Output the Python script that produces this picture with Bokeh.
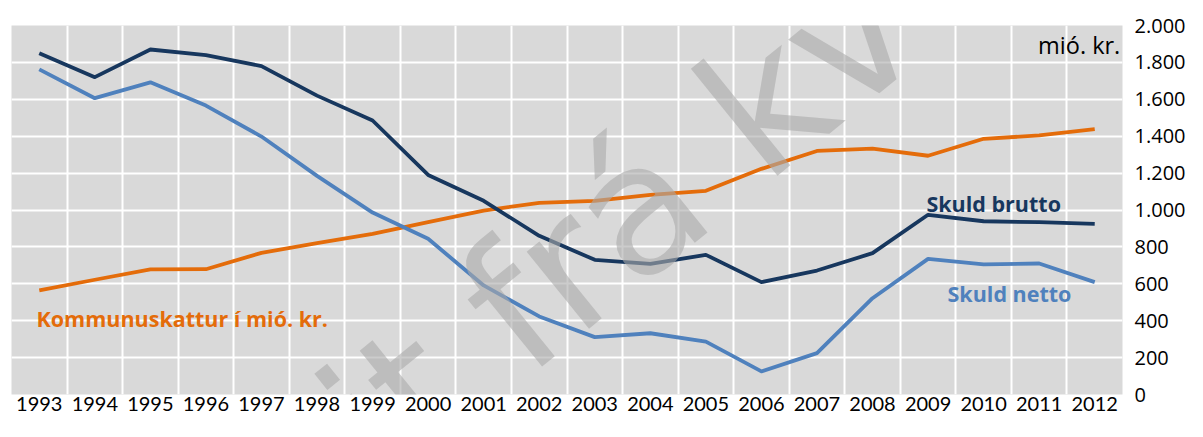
from bokeh.plotting import figure
from bokeh.models import Range1d, FixedTicker, Label
from bokeh.embed import file_html
from bokeh.resources import INLINE

years = [str(y) for y in range(1993, 2013)]
skuld_brutto = [1850, 1720, 1870, 1840, 1780, 1620, 1485, 1190, 1050, 860, 730, 708, 757, 609, 672, 766, 974, 939, 934, 925]
skuld_netto = [1762, 1606, 1692, 1566, 1398, 1185, 986, 844, 591, 423, 311, 332, 287, 125, 224, 522, 735, 705, 710, 609]
kommunuskattur = [564, 622, 678, 679, 768, 820, 871, 934, 997, 1039, 1050, 1082, 1104, 1223, 1320, 1333, 1294, 1386, 1404, 1438]
y_ticks = list(range(0, 2001, 200))

FONT = "Open Sans"
NAVY = "#17375E"
BLUE = "#4F81BD"
ORANGE = "#E46C0A"

xs = [i + 0.5 for i in range(len(years))]

p = figure(frame_width=1111, frame_height=369, output_backend="svg", toolbar_location=None,
           x_range=Range1d(0, len(years)), y_range=Range1d(0, 2000),
           y_axis_location="right", min_border_left=11, min_border_top=25,
           min_border_right=0, min_border_bottom=27)
p.outline_line_color = None
p.background_fill_color = "#D9D9D9"
p.border_fill_color = "white"

p.xgrid.ticker = FixedTicker(ticks=list(range(len(years) + 1)))
p.ygrid.ticker = FixedTicker(ticks=y_ticks)
for g in (p.xgrid, p.ygrid):
    g.grid_line_color = "white"
    g.grid_line_width = 2

p.xaxis.ticker = FixedTicker(ticks=xs)
p.xaxis.major_label_overrides = {x: y for x, y in zip(xs, years)}
p.yaxis.ticker = FixedTicker(ticks=y_ticks)
p.yaxis.major_label_overrides = {v: f"{v:,}".replace(",", ".") for v in y_ticks}
for ax in (p.xaxis, p.yaxis):
    ax.axis_line_color = None
    ax.major_tick_line_color = None
    ax.minor_tick_line_color = None
    ax.major_tick_out = 0
    ax.major_tick_in = 0
    ax.major_label_text_color = "black"
p.xaxis.major_label_text_font = "Lato"
p.xaxis.major_label_text_font_size = "20px"
p.xaxis.major_label_standoff = 2
p.yaxis.major_label_text_font = FONT
p.yaxis.major_label_text_font_size = "20px"
p.yaxis.major_label_standoff = 12

lw = 3.8
p.line(xs, kommunuskattur, line_color=ORANGE, line_width=lw, line_join="round")
p.line(xs, skuld_brutto, line_color=NAVY, line_width=lw, line_join="round")
p.line(xs, skuld_netto, line_color=BLUE, line_width=lw, line_join="round")

def lab(x, y, text, color, size="21.5px", bold=True, align="left"):
    p.add_layout(Label(x=x, y=y, text=text, text_color=color, text_font=FONT,
                       text_font_size=size, text_font_style="bold" if bold else "normal",
                       text_baseline="alphabetic", text_align=align))

lab(16.47, 1037, "Skuld brutto", NAVY)
lab(16.85, 546, "Skuld netto", BLUE)
lab(0.45, 410, "Kommunuskattur í mió. kr.", ORANGE)
lab(19.96, 1895, "mió. kr.", "black", size="23.5px", bold=False, align="right")

# watermark
p.add_layout(Label(x=6.065, y=-263, text="it frá kv", text_color="#aaaaaa", text_alpha=0.6,
                   text_font="DejaVu Sans", text_font_size="181px", angle=0.681,
                   text_baseline="alphabetic", text_align="left"))

open("out.html", "w").write(file_html(p, INLINE))
